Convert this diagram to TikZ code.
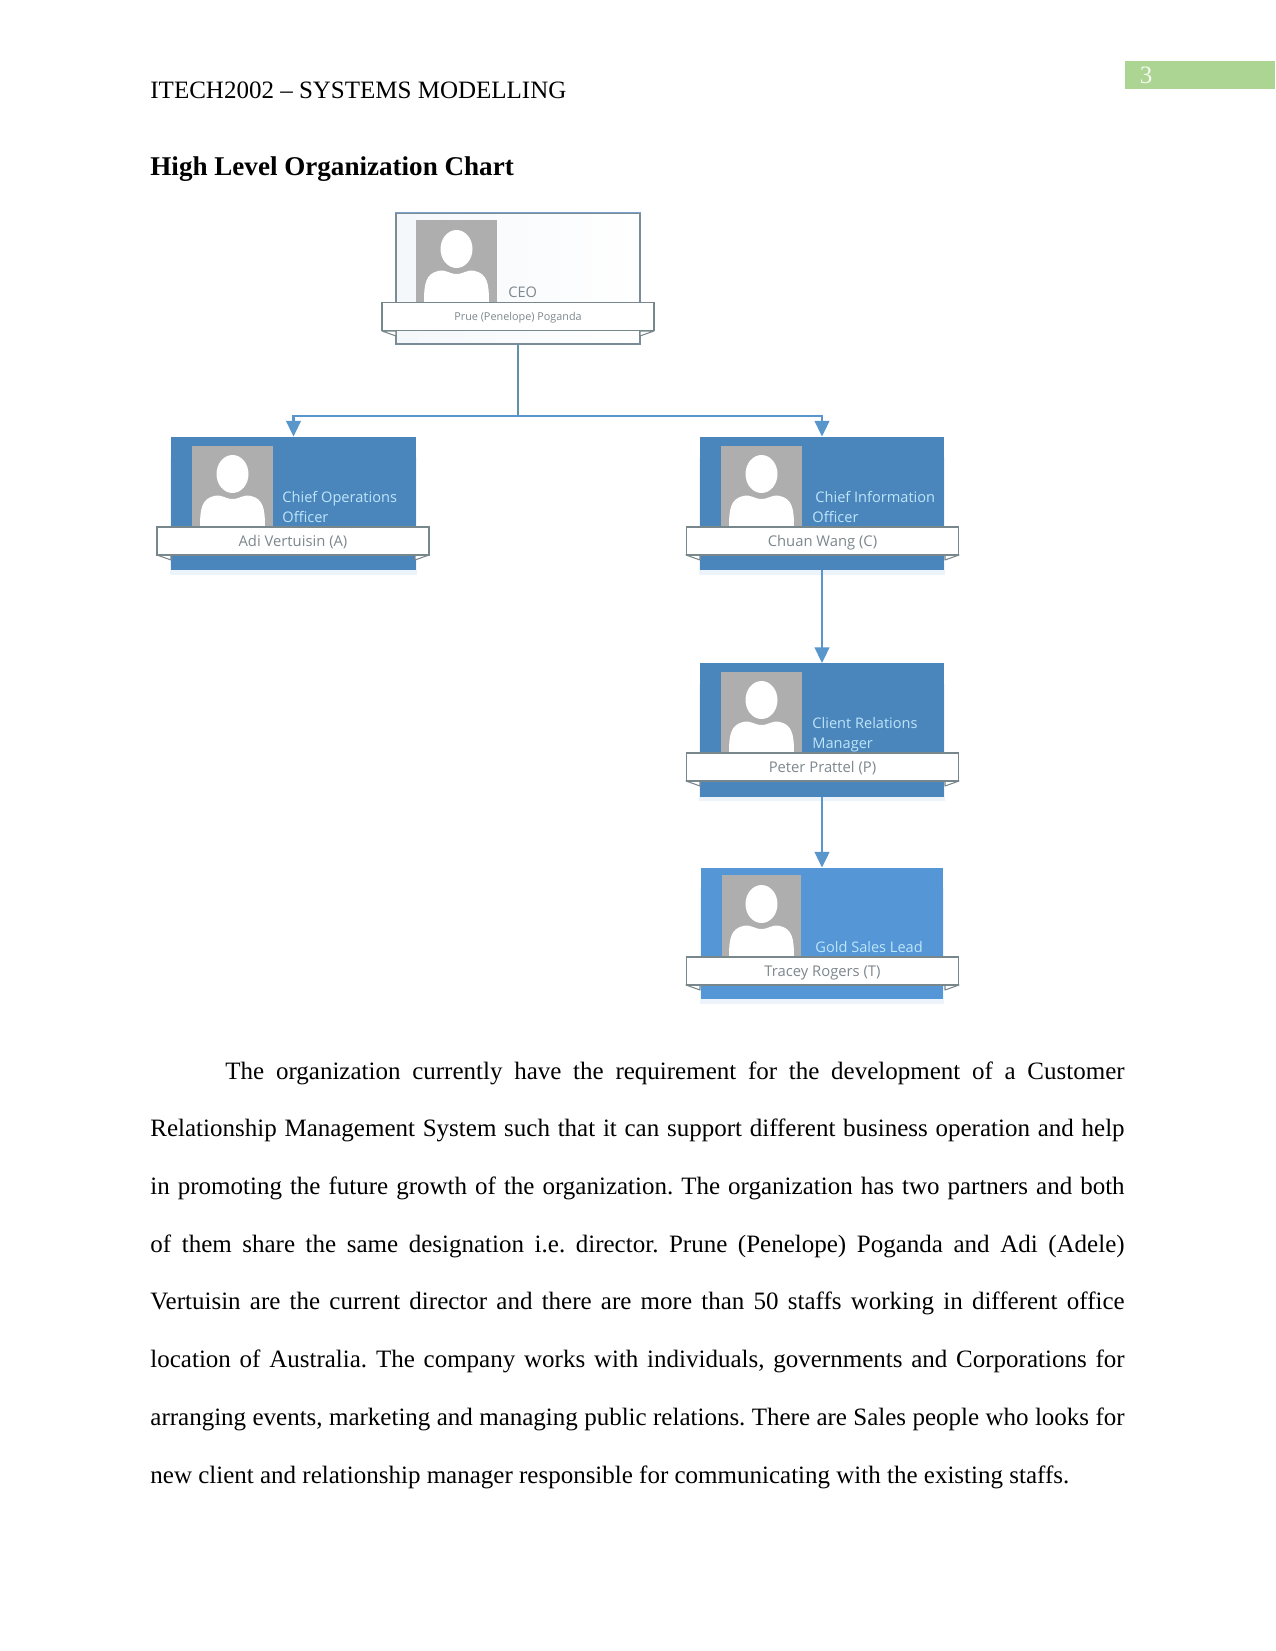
\documentclass[tikz,border=0pt]{standalone}
\usepackage{fontspec}
\setmainfont{Liberation Serif}
\newfontfamily\cardfont{Open Sans}
\usetikzlibrary{arrows.meta}
\definecolor{carddark}{RGB}{74,133,188}
\definecolor{cardgold}{RGB}{84,150,214}
\definecolor{cardtext}{RGB}{190,230,250}
\definecolor{nametext}{RGB}{125,135,142}
\definecolor{ribbonline}{RGB}{120,135,140}
\definecolor{photogray}{RGB}{174,174,174}
\definecolor{linkblue}{RGB}{88,150,204}
\definecolor{linkteal}{RGB}{95,145,170}
\definecolor{tabgreen}{RGB}{172,212,146}
\definecolor{ceoedge}{RGB}{125,160,200}
\definecolor{shadowblue}{RGB}{236,243,250}
\tikzset{
  x=0.48bp,y=-0.48bp,
  cardbox/.style={rectangle,inner sep=0pt,minimum width=117.4bp,minimum height=63.9bp,fill=carddark,draw=none},
  ceobox/.style={rectangle,inner sep=0pt,minimum width=117.1bp,minimum height=62.9bp,left color=ceoedge!8!white,right color=white,draw=ribbonline!80!ceoedge,line width=0.6bp},
  ribbon/.style={rectangle,inner sep=0pt,minimum width=130.6bp,minimum height=13.4bp,fill=white,draw=ribbonline,line width=0.6bp,text=nametext,text height=6bp,text depth=1.1bp,font=\cardfont\fontsize{7.1bp}{8bp}\selectfont},
  photo/.style={rectangle,inner sep=0pt,minimum width=38.9bp,minimum height=38.9bp,fill=photogray},
  role/.style={anchor=base west,inner sep=0pt,text=cardtext,font=\cardfont\fontsize{7bp}{8bp}\selectfont},
  link/.style={line width=1.1bp,draw=linkblue,-{Triangle[width=7bp,length=7.5bp]}},
  plainlink/.style={line width=1.1bp,draw=linkteal},
  fold/.style={fill=white,draw=ribbonline,line width=0.5bp,line join=round},
  bodyfont/.style={font=\fontsize{12bp}{14bp}\selectfont},
  pics/person/.style={code={
    \fill[white] (40.5,28) ellipse [x radius=16,y radius=19];
    \fill[white] (8,81) .. controls (8,62) and (10,53) .. (22,50) .. controls (30,48) and (33,53) .. (40.5,53) .. controls (48,53) and (51,48) .. (59,50) .. controls (71,53) and (73,62) .. (73,81) -- cycle;
  }}
}
\newcommand{\cardshadow}[4]{\fill[shadowblue] (#1-1,#2+20) rectangle (#3+1,#4+5);}
\newcommand{\ribbonfolds}[4]{%
  \draw[fold] (#1,#4) -- (#1+14,#4) -- (#1+14,#4+5) -- cycle;
  \draw[fold] (#3,#4) -- (#3-14,#4) -- (#3-14,#4+5) -- cycle;}
\begin{document}
\begin{tikzpicture}
\useasboundingbox (0,0) rectangle (1275,1651);
\fill[white] (0,0) rectangle (1275,1651);
% header
\node[rectangle,inner sep=0pt,fill=tabgreen,minimum width=72.2bp,minimum height=13.4bp,anchor=north west] (tab) at (1124.5,61) {};
\node[text=white!85!tabgreen,inner sep=0pt,anchor=base,font=\fontsize{12bp}{14bp}\selectfont] (pagenum) at (1146,83) {3};
\node[anchor=base west,inner sep=0pt,bodyfont] (runhead) at (150,98) {ITECH2002 – SYSTEMS MODELLING};
\node[anchor=base west,inner sep=0pt,font=\fontsize{13bp}{16bp}\selectfont\bfseries] (title) at (150,175) {High Level Organization Chart};
% shadows
\cardshadow{171}{437}{416}{570}
\cardshadow{700}{437}{944}{570}
\cardshadow{700}{664}{944}{796}
\cardshadow{701}{868}{943}{999}
% CEO
\node[ceobox] (ceo) at (518,278.5) {};
\draw[ceoedge,line width=0.7bp] (ceo.north west) -- (ceo.north east);
\node[photo,minimum width=38.9bp,minimum height=39.4bp] (ceophoto) at (456.5,261.5) {};
\pic at (416,221) {person};
\node[role,text=nametext] (ceorole) at (508,297) {CEO};
\ribbonfolds{382}{302}{654}{331}
\node[ribbon,text height=4.6bp,text depth=0.6bp,font=\cardfont\fontsize{5.2bp}{6bp}\selectfont] (ceoname) at (518,316.5) {Prue (Penelope) Poganda};
% COO
\node[cardbox] (coo) at (293.5,503.5) {};
\node[photo] (coophoto) at (232.5,486.5) {};
\pic at (192,446) {person};
\node[role] (coorole1) at (282,502) {Chief Operations};
\node[role] (coorole2) at (282,522) {Officer};
\ribbonfolds{157}{527}{429}{555}
\node[ribbon] (cooname) at (293,541) {Adi Vertuisin (A)};
% CIO
\node[cardbox] (cio) at (822,503.5) {};
\node[photo] (ciophoto) at (761.5,486.5) {};
\pic at (721,446) {person};
\node[role] (ciorole1) at (815,502) {Chief Information};
\node[role] (ciorole2) at (812,522) {Officer};
\ribbonfolds{686}{527}{959}{555}
\node[ribbon] (cioname) at (822.5,541) {Chuan Wang (C)};
% CRM
\node[cardbox] (crm) at (822,730) {};
\node[photo] (crmphoto) at (761.5,712.5) {};
\pic at (721,672) {person};
\node[role] (crmrole1) at (812,728) {Client Relations};
\node[role] (crmrole2) at (812,748) {Manager};
\ribbonfolds{686}{753}{959}{781}
\node[ribbon] (crmname) at (822.5,767) {Peter Prattel (P)};
% Gold
\node[cardbox,fill=cardgold,minimum width=116.4bp,minimum height=62.9bp] (gold) at (822,933.5) {};
\node[photo,minimum width=37.9bp,minimum height=39.4bp] (goldphoto) at (761.5,916.5) {};
\pic at (721,876) {person};
\node[role] (goldrole) at (815,952) {Gold Sales Lead};
\ribbonfolds{686}{957}{959}{985}
\node[ribbon] (goldname) at (822.5,971) {Tracey Rogers (T)};
% connectors
\coordinate (split) at (ceo.south |- 0,416);
\draw[plainlink] (ceo.south) -- (split);
\draw[link] (split) -| (coo.north);
\draw[link] (split) -| (cio.north);
\draw[link] (cio.south) -- (crm.north);
\draw[link] (crm.south) -- (gold.north);
% body
\node[anchor=north west,inner sep=0pt,text width=467.6bp,align=justify] (body) at (150,1061) {\fontsize{12bp}{27.7bp}\selectfont\frenchspacing\hspace*{36bp}The organization currently have the requirement for the development of a Customer\linebreak Relationship Management System such that it can support different business operation and help\linebreak in promoting the future growth of the organization. The organization has two partners and both\linebreak of them share the same designation i.e. director. Prune (Penelope) Poganda and Adi (Adele)\linebreak Vertuisin are the current director and there are more than 50 staffs working in different office\linebreak location of Australia. The company works with individuals, governments and Corporations for\linebreak arranging events, marketing and managing public relations. There are Sales people who looks for\linebreak new client and relationship manager responsible for communicating with the existing staffs.\par};
\end{tikzpicture}
\end{document}
